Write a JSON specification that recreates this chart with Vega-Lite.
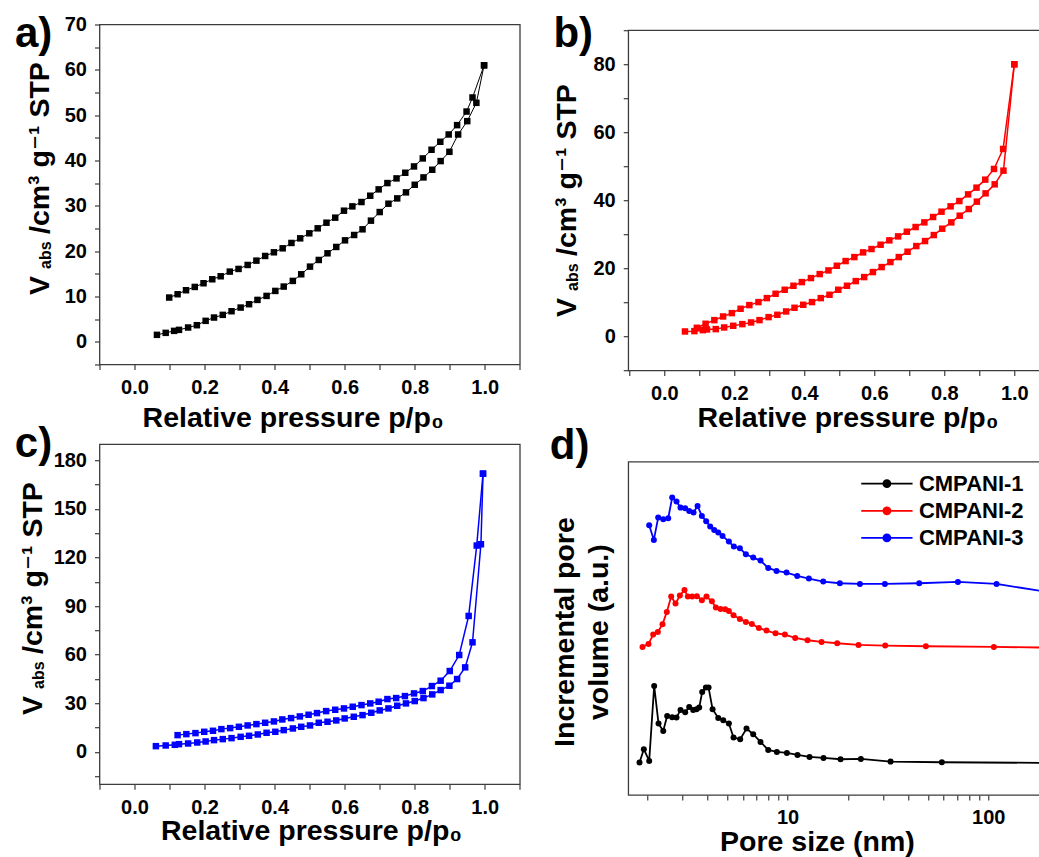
{
 "$schema": "https://vega.github.io/schema/vega-lite/v6.json",
 "background": "white",
 "padding": {"left": 13.5, "top": 10.5, "right": 0, "bottom": 0},
 "datasets": {
  "a": [
   {"p":0.064,"v":1.54,"b":"ads"},{"p":0.089,"v":1.98,"b":"ads"},{"p":0.113,"v":2.42,"b":"ads"},{"p":0.127,"v":2.64,"b":"ads"},{"p":0.153,"v":3.16,"b":"ads"},{"p":0.178,"v":3.67,"b":"ads"},{"p":0.203,"v":4.63,"b":"ads"},{"p":0.227,"v":5.36,"b":"ads"},{"p":0.252,"v":5.95,"b":"ads"},{"p":0.277,"v":6.75,"b":"ads"},{"p":0.303,"v":7.56,"b":"ads"},{"p":0.327,"v":8.3,"b":"ads"},{"p":0.351,"v":9.25,"b":"ads"},{"p":0.377,"v":10.13,"b":"ads"},{"p":0.402,"v":11.23,"b":"ads"},{"p":0.426,"v":12.19,"b":"ads"},{"p":0.452,"v":13.44,"b":"ads"},{"p":0.476,"v":14.9,"b":"ads"},{"p":0.501,"v":16.59,"b":"ads"},{"p":0.526,"v":18.06,"b":"ads"},{"p":0.551,"v":19.53,"b":"ads"},{"p":0.576,"v":20.93,"b":"ads"},{"p":0.601,"v":22.39,"b":"ads"},{"p":0.627,"v":23.57,"b":"ads"},{"p":0.651,"v":24.82,"b":"ads"},{"p":0.675,"v":26.73,"b":"ads"},{"p":0.7,"v":28.63,"b":"ads"},{"p":0.725,"v":30.47,"b":"ads"},{"p":0.75,"v":31.64,"b":"ads"},{"p":0.775,"v":32.97,"b":"ads"},{"p":0.8,"v":34.65,"b":"ads"},{"p":0.825,"v":36.27,"b":"ads"},{"p":0.85,"v":37.96,"b":"ads"},{"p":0.874,"v":39.87,"b":"ads"},{"p":0.899,"v":41.92,"b":"ads"},{"p":0.924,"v":45.74,"b":"ads"},{"p":0.95,"v":48.68,"b":"ads"},{"p":0.976,"v":52.72,"b":"ads"},{"p":0.998,"v":61.0,"b":"ads"},
   {"p":0.099,"v":9.77,"b":"des"},{"p":0.123,"v":10.5,"b":"des"},{"p":0.147,"v":11.38,"b":"des"},{"p":0.172,"v":12.11,"b":"des"},{"p":0.197,"v":12.92,"b":"des"},{"p":0.222,"v":13.8,"b":"des"},{"p":0.246,"v":14.46,"b":"des"},{"p":0.272,"v":15.49,"b":"des"},{"p":0.297,"v":16.08,"b":"des"},{"p":0.323,"v":16.96,"b":"des"},{"p":0.348,"v":17.91,"b":"des"},{"p":0.373,"v":18.94,"b":"des"},{"p":0.398,"v":19.75,"b":"des"},{"p":0.423,"v":20.63,"b":"des"},{"p":0.448,"v":21.81,"b":"des"},{"p":0.473,"v":22.83,"b":"des"},{"p":0.499,"v":23.94,"b":"des"},{"p":0.523,"v":25.04,"b":"des"},{"p":0.548,"v":26.28,"b":"des"},{"p":0.573,"v":27.39,"b":"des"},{"p":0.598,"v":28.93,"b":"des"},{"p":0.622,"v":29.88,"b":"des"},{"p":0.648,"v":30.84,"b":"des"},{"p":0.673,"v":32.23,"b":"des"},{"p":0.697,"v":33.63,"b":"des"},{"p":0.722,"v":35.02,"b":"des"},{"p":0.748,"v":36.05,"b":"des"},{"p":0.773,"v":37.3,"b":"des"},{"p":0.798,"v":38.69,"b":"des"},{"p":0.823,"v":40.46,"b":"des"},{"p":0.848,"v":42.37,"b":"des"},{"p":0.873,"v":44.13,"b":"des"},{"p":0.897,"v":45.74,"b":"des"},{"p":0.921,"v":47.8,"b":"des"},{"p":0.948,"v":50.8,"b":"des"},{"p":0.965,"v":53.9,"b":"des"},{"p":0.998,"v":61.0,"b":"des"}
  ],
  "b": [
   {"p":0.059,"v":1.47,"b":"ads"},{"p":0.086,"v":1.57,"b":"ads"},{"p":0.11,"v":1.86,"b":"ads"},{"p":0.122,"v":2.06,"b":"ads"},{"p":0.147,"v":2.16,"b":"ads"},{"p":0.171,"v":2.65,"b":"ads"},{"p":0.197,"v":3.14,"b":"ads"},{"p":0.223,"v":3.63,"b":"ads"},{"p":0.248,"v":4.12,"b":"ads"},{"p":0.272,"v":4.8,"b":"ads"},{"p":0.298,"v":5.69,"b":"ads"},{"p":0.323,"v":6.37,"b":"ads"},{"p":0.348,"v":7.35,"b":"ads"},{"p":0.372,"v":8.43,"b":"ads"},{"p":0.397,"v":9.31,"b":"ads"},{"p":0.422,"v":10.1,"b":"ads"},{"p":0.447,"v":11.27,"b":"ads"},{"p":0.472,"v":12.25,"b":"ads"},{"p":0.497,"v":13.73,"b":"ads"},{"p":0.522,"v":14.9,"b":"ads"},{"p":0.547,"v":16.27,"b":"ads"},{"p":0.571,"v":17.45,"b":"ads"},{"p":0.596,"v":18.92,"b":"ads"},{"p":0.621,"v":20.39,"b":"ads"},{"p":0.646,"v":21.86,"b":"ads"},{"p":0.67,"v":23.33,"b":"ads"},{"p":0.695,"v":24.9,"b":"ads"},{"p":0.72,"v":26.57,"b":"ads"},{"p":0.745,"v":28.04,"b":"ads"},{"p":0.77,"v":29.8,"b":"ads"},{"p":0.794,"v":31.67,"b":"ads"},{"p":0.82,"v":33.53,"b":"ads"},{"p":0.844,"v":35.49,"b":"ads"},{"p":0.87,"v":37.45,"b":"ads"},{"p":0.893,"v":39.61,"b":"ads"},{"p":0.918,"v":42.06,"b":"ads"},{"p":0.944,"v":44.71,"b":"ads"},{"p":0.969,"v":48.73,"b":"ads"},{"p":1.0,"v":80.0,"b":"ads"},
   {"p":0.093,"v":2.55,"b":"des"},{"p":0.118,"v":3.73,"b":"des"},{"p":0.143,"v":4.8,"b":"des"},{"p":0.168,"v":5.88,"b":"des"},{"p":0.193,"v":6.86,"b":"des"},{"p":0.218,"v":8.14,"b":"des"},{"p":0.243,"v":9.22,"b":"des"},{"p":0.269,"v":10.1,"b":"des"},{"p":0.293,"v":11.27,"b":"des"},{"p":0.318,"v":12.55,"b":"des"},{"p":0.344,"v":13.73,"b":"des"},{"p":0.369,"v":14.9,"b":"des"},{"p":0.393,"v":15.98,"b":"des"},{"p":0.419,"v":17.16,"b":"des"},{"p":0.444,"v":18.33,"b":"des"},{"p":0.469,"v":19.41,"b":"des"},{"p":0.493,"v":20.78,"b":"des"},{"p":0.518,"v":22.16,"b":"des"},{"p":0.543,"v":23.33,"b":"des"},{"p":0.568,"v":24.71,"b":"des"},{"p":0.592,"v":25.69,"b":"des"},{"p":0.618,"v":26.96,"b":"des"},{"p":0.643,"v":28.24,"b":"des"},{"p":0.668,"v":29.41,"b":"des"},{"p":0.693,"v":30.78,"b":"des"},{"p":0.718,"v":32.16,"b":"des"},{"p":0.743,"v":33.53,"b":"des"},{"p":0.768,"v":35.1,"b":"des"},{"p":0.792,"v":36.67,"b":"des"},{"p":0.818,"v":38.24,"b":"des"},{"p":0.843,"v":39.8,"b":"des"},{"p":0.868,"v":41.76,"b":"des"},{"p":0.892,"v":43.73,"b":"des"},{"p":0.917,"v":46.08,"b":"des"},{"p":0.942,"v":49.22,"b":"des"},{"p":0.968,"v":55.1,"b":"des"},{"p":1.0,"v":80.0,"b":"des"}
  ],
  "c": [
   {"p":0.061,"v":3.5,"b":"ads"},{"p":0.089,"v":3.92,"b":"ads"},{"p":0.115,"v":4.33,"b":"ads"},{"p":0.127,"v":4.74,"b":"ads"},{"p":0.153,"v":5.15,"b":"ads"},{"p":0.179,"v":5.77,"b":"ads"},{"p":0.203,"v":6.39,"b":"ads"},{"p":0.227,"v":7.22,"b":"ads"},{"p":0.252,"v":7.84,"b":"ads"},{"p":0.277,"v":8.45,"b":"ads"},{"p":0.303,"v":9.28,"b":"ads"},{"p":0.327,"v":9.9,"b":"ads"},{"p":0.352,"v":10.72,"b":"ads"},{"p":0.377,"v":11.75,"b":"ads"},{"p":0.402,"v":12.37,"b":"ads"},{"p":0.426,"v":13.4,"b":"ads"},{"p":0.452,"v":14.43,"b":"ads"},{"p":0.476,"v":15.46,"b":"ads"},{"p":0.501,"v":16.29,"b":"ads"},{"p":0.526,"v":17.94,"b":"ads"},{"p":0.551,"v":18.56,"b":"ads"},{"p":0.576,"v":19.38,"b":"ads"},{"p":0.6,"v":20.62,"b":"ads"},{"p":0.626,"v":21.65,"b":"ads"},{"p":0.651,"v":22.68,"b":"ads"},{"p":0.676,"v":24.12,"b":"ads"},{"p":0.7,"v":25.57,"b":"ads"},{"p":0.725,"v":26.8,"b":"ads"},{"p":0.75,"v":28.45,"b":"ads"},{"p":0.775,"v":29.9,"b":"ads"},{"p":0.8,"v":31.34,"b":"ads"},{"p":0.825,"v":33.2,"b":"ads"},{"p":0.85,"v":35.46,"b":"ads"},{"p":0.874,"v":38.14,"b":"ads"},{"p":0.899,"v":40.82,"b":"ads"},{"p":0.921,"v":44.95,"b":"ads"},{"p":0.944,"v":52.16,"b":"ads"},{"p":0.965,"v":67.63,"b":"ads"},{"p":0.989,"v":128.2,"b":"ads"},{"p":0.995,"v":171.8,"b":"ads"},
   {"p":0.123,"v":10.31,"b":"des"},{"p":0.148,"v":10.93,"b":"des"},{"p":0.174,"v":11.55,"b":"des"},{"p":0.199,"v":12.37,"b":"des"},{"p":0.224,"v":12.99,"b":"des"},{"p":0.248,"v":14.02,"b":"des"},{"p":0.273,"v":14.64,"b":"des"},{"p":0.298,"v":15.46,"b":"des"},{"p":0.323,"v":16.29,"b":"des"},{"p":0.348,"v":17.11,"b":"des"},{"p":0.373,"v":17.94,"b":"des"},{"p":0.398,"v":18.76,"b":"des"},{"p":0.422,"v":20.0,"b":"des"},{"p":0.447,"v":20.82,"b":"des"},{"p":0.472,"v":21.86,"b":"des"},{"p":0.497,"v":22.89,"b":"des"},{"p":0.521,"v":23.92,"b":"des"},{"p":0.547,"v":25.15,"b":"des"},{"p":0.573,"v":25.98,"b":"des"},{"p":0.598,"v":26.8,"b":"des"},{"p":0.623,"v":27.84,"b":"des"},{"p":0.648,"v":28.87,"b":"des"},{"p":0.673,"v":29.9,"b":"des"},{"p":0.697,"v":30.93,"b":"des"},{"p":0.722,"v":32.58,"b":"des"},{"p":0.747,"v":33.2,"b":"des"},{"p":0.772,"v":34.43,"b":"des"},{"p":0.798,"v":36.08,"b":"des"},{"p":0.823,"v":37.53,"b":"des"},{"p":0.849,"v":40.62,"b":"des"},{"p":0.874,"v":43.92,"b":"des"},{"p":0.9,"v":49.9,"b":"des"},{"p":0.927,"v":59.79,"b":"des"},{"p":0.954,"v":83.92,"b":"des"},{"p":0.977,"v":127.4,"b":"des"},{"p":0.995,"v":171.8,"b":"des"}
  ],
  "d": [
   {"s":"CMPANI-1","x":1.83,"y":9.7},{"s":"CMPANI-1","x":1.923,"y":13.7},{"s":"CMPANI-1","x":2.045,"y":10.2},{"s":"CMPANI-1","x":2.165,"y":32.7},{"s":"CMPANI-1","x":2.276,"y":21.4},{"s":"CMPANI-1","x":2.402,"y":19.2},{"s":"CMPANI-1","x":2.513,"y":23.7},{"s":"CMPANI-1","x":2.662,"y":23.3},{"s":"CMPANI-1","x":2.797,"y":23.2},{"s":"CMPANI-1","x":2.929,"y":25.5},{"s":"CMPANI-1","x":3.09,"y":24.8},{"s":"CMPANI-1","x":3.236,"y":26.4},{"s":"CMPANI-1","x":3.388,"y":25.5},{"s":"CMPANI-1","x":3.519,"y":25.7},{"s":"CMPANI-1","x":3.629,"y":26.2},{"s":"CMPANI-1","x":3.757,"y":30.9},{"s":"CMPANI-1","x":3.919,"y":32.2},{"s":"CMPANI-1","x":4.041,"y":32.2},{"s":"CMPANI-1","x":4.231,"y":25.7},{"s":"CMPANI-1","x":4.515,"y":23.1},{"s":"CMPANI-1","x":4.782,"y":22.4},{"s":"CMPANI-1","x":5.102,"y":21.4},{"s":"CMPANI-1","x":5.382,"y":17.2},{"s":"CMPANI-1","x":5.808,"y":16.7},{"s":"CMPANI-1","x":6.246,"y":19.9},{"s":"CMPANI-1","x":6.745,"y":18.2},{"s":"CMPANI-1","x":7.335,"y":15.9},{"s":"CMPANI-1","x":8.012,"y":13.5},{"s":"CMPANI-1","x":8.846,"y":12.9},{"s":"CMPANI-1","x":9.924,"y":12.6},{"s":"CMPANI-1","x":11.21,"y":12.0},{"s":"CMPANI-1","x":12.87,"y":11.4},{"s":"CMPANI-1","x":15.11,"y":11.1},{"s":"CMPANI-1","x":18.37,"y":10.7},{"s":"CMPANI-1","x":23.19,"y":10.8},{"s":"CMPANI-1","x":32.61,"y":10.0},{"s":"CMPANI-1","x":58.75,"y":9.8},{"s":"CMPANI-1","x":188,"y":9.6},
   {"s":"CMPANI-2","x":1.894,"y":44.4},{"s":"CMPANI-2","x":2.029,"y":45.3},{"s":"CMPANI-2","x":2.141,"y":48.1},{"s":"CMPANI-2","x":2.258,"y":48.9},{"s":"CMPANI-2","x":2.382,"y":51.2},{"s":"CMPANI-2","x":2.503,"y":54.9},{"s":"CMPANI-2","x":2.632,"y":59.5},{"s":"CMPANI-2","x":2.765,"y":57.4},{"s":"CMPANI-2","x":2.907,"y":59.8},{"s":"CMPANI-2","x":3.066,"y":61.5},{"s":"CMPANI-2","x":3.186,"y":59.5},{"s":"CMPANI-2","x":3.349,"y":59.5},{"s":"CMPANI-2","x":3.534,"y":59.6},{"s":"CMPANI-2","x":3.742,"y":58.4},{"s":"CMPANI-2","x":3.947,"y":59.5},{"s":"CMPANI-2","x":4.197,"y":58.1},{"s":"CMPANI-2","x":4.393,"y":56.2},{"s":"CMPANI-2","x":4.635,"y":55.8},{"s":"CMPANI-2","x":4.889,"y":55.7},{"s":"CMPANI-2","x":5.102,"y":55.2},{"s":"CMPANI-2","x":5.382,"y":53.9},{"s":"CMPANI-2","x":5.786,"y":52.8},{"s":"CMPANI-2","x":6.199,"y":51.9},{"s":"CMPANI-2","x":6.64,"y":51.3},{"s":"CMPANI-2","x":7.196,"y":50.1},{"s":"CMPANI-2","x":7.858,"y":49.3},{"s":"CMPANI-2","x":8.714,"y":48.5},{"s":"CMPANI-2","x":9.698,"y":48.1},{"s":"CMPANI-2","x":10.92,"y":47.1},{"s":"CMPANI-2","x":12.58,"y":46.4},{"s":"CMPANI-2","x":14.77,"y":45.9},{"s":"CMPANI-2","x":17.68,"y":45.5},{"s":"CMPANI-2","x":22.58,"y":45.0},{"s":"CMPANI-2","x":30.67,"y":44.8},{"s":"CMPANI-2","x":48.91,"y":44.6},{"s":"CMPANI-2","x":106.7,"y":44.4},{"s":"CMPANI-2","x":188,"y":44.2},
   {"s":"CMPANI-3","x":2.045,"y":80.9},{"s":"CMPANI-3","x":2.157,"y":76.5},{"s":"CMPANI-3","x":2.267,"y":83.2},{"s":"CMPANI-3","x":2.402,"y":82.7},{"s":"CMPANI-3","x":2.543,"y":83.0},{"s":"CMPANI-3","x":2.662,"y":89.2},{"s":"CMPANI-3","x":2.797,"y":88.0},{"s":"CMPANI-3","x":2.929,"y":86.2},{"s":"CMPANI-3","x":3.09,"y":86.0},{"s":"CMPANI-3","x":3.236,"y":85.2},{"s":"CMPANI-3","x":3.401,"y":84.7},{"s":"CMPANI-3","x":3.561,"y":86.7},{"s":"CMPANI-3","x":3.742,"y":83.7},{"s":"CMPANI-3","x":3.932,"y":82.1},{"s":"CMPANI-3","x":4.117,"y":80.5},{"s":"CMPANI-3","x":4.311,"y":79.5},{"s":"CMPANI-3","x":4.515,"y":78.7},{"s":"CMPANI-3","x":4.743,"y":77.7},{"s":"CMPANI-3","x":5.102,"y":76.0},{"s":"CMPANI-3","x":5.403,"y":74.5},{"s":"CMPANI-3","x":5.786,"y":74.0},{"s":"CMPANI-3","x":6.199,"y":72.2},{"s":"CMPANI-3","x":6.745,"y":71.2},{"s":"CMPANI-3","x":7.335,"y":70.3},{"s":"CMPANI-3","x":8.012,"y":68.1},{"s":"CMPANI-3","x":8.813,"y":67.2},{"s":"CMPANI-3","x":9.886,"y":66.7},{"s":"CMPANI-3","x":11.17,"y":65.7},{"s":"CMPANI-3","x":12.77,"y":64.9},{"s":"CMPANI-3","x":15.06,"y":64.0},{"s":"CMPANI-3","x":18.23,"y":63.5},{"s":"CMPANI-3","x":22.94,"y":63.3},{"s":"CMPANI-3","x":30.55,"y":63.3},{"s":"CMPANI-3","x":45.3,"y":63.5},{"s":"CMPANI-3","x":70.62,"y":63.9},{"s":"CMPANI-3","x":110.0,"y":63.3},{"s":"CMPANI-3","x":188,"y":61.1}
  ]
 },
 "bounds": "full",
 "spacing": 26.75,
 "hconcat": [
  {
   "bounds": "flush",
   "spacing": 79.7,
   "vconcat": [
    {
     "width": 420.3, "height": 340,
     "data": {"name": "a"},
     "layer": [
      {"transform": [{"filter": "datum.b === 'ads'"}],
       "mark": {"type": "line", "color": "#000000", "strokeWidth": 1},
       "encoding": {
        "x": {"field": "p", "type": "quantitative", "scale": {"domain": [-0.1, 1.1], "nice": false, "zero": false},
              "axis": {"orient": "bottom", "values": [-0.1,0,0.1,0.2,0.3,0.4,0.5,0.6,0.7,0.8,0.9,1.0,1.1], "labelExpr": "indexof(['0.0','0.2','0.4','0.6','0.8','1.0'], format(datum.value, '.1f')) >= 0 ? format(datum.value, '.1f') : ''", "title": "Relative pressure p/p₀", "titleX": 42.6, "titleY": 62.4, "titleAlign": "left", "titleBaseline": "alphabetic"}},
        "y": {"field": "v", "type": "quantitative", "scale": {"domain": [-5, 70], "nice": false, "zero": false},
              "axis": {"orient": "left", "values": [-5,0,5,10,15,20,25,30,35,40,45,50,55,60,65,70], "labelExpr": "datum.value % 10 === 0 ? datum.label : ''", "title": "V", "titleX": -51.2, "titleY": 270, "titleAngle": 270, "titleAlign": "left", "titleBaseline": "alphabetic"}}
       }},
      {"transform": [{"filter": "datum.b === 'des'"}],
       "mark": {"type": "line", "color": "#000000", "strokeWidth": 1},
       "encoding": {
        "x": {"field": "p", "type": "quantitative", "scale": {"domain": [-0.1, 1.1], "nice": false, "zero": false},
              "axis": {"orient": "top", "ticks": false, "labels": false, "domain": false, "title": "a)", "titleFontSize": 42, "titleX": -85, "titleY": 21.5, "titleAngle": 0, "titleAlign": "left", "titleBaseline": "alphabetic"}},
        "y": {"field": "v", "type": "quantitative", "scale": {"domain": [-5, 70], "nice": false, "zero": false},
              "axis": {"orient": "left", "ticks": false, "labels": false, "domain": false, "title": "abs", "titleFontSize": 16, "titleX": -49.2, "titleY": 244, "titleAngle": 270, "titleAlign": "left", "titleBaseline": "alphabetic"}}
       }},
      {"mark": {"type": "square", "filled": true, "size": 42, "color": "#000000", "opacity": 1},
       "encoding": {
        "x": {"field": "p", "type": "quantitative", "scale": {"domain": [-0.1, 1.1], "nice": false, "zero": false}, "axis": null},
        "y": {"field": "v", "type": "quantitative", "scale": {"domain": [-5, 70], "nice": false, "zero": false},
              "axis": {"orient": "left", "ticks": false, "labels": false, "domain": false, "title": "/cm³ g⁻¹ STP", "titleX": -51.2, "titleY": 209, "titleAngle": 270, "titleAlign": "left", "titleBaseline": "alphabetic"}}
       }}
     ],
     "resolve": {"axis": {"x": "independent", "y": "independent"}}
    },
    {
     "width": 420.3, "height": 340,
     "data": {"name": "c"},
     "layer": [
      {"transform": [{"filter": "datum.b === 'ads'"}],
       "mark": {"type": "line", "color": "#0000ff", "strokeWidth": 1.5},
       "encoding": {
        "x": {"field": "p", "type": "quantitative", "scale": {"domain": [-0.1, 1.1], "nice": false, "zero": false},
              "axis": {"orient": "bottom", "values": [-0.1,0,0.1,0.2,0.3,0.4,0.5,0.6,0.7,0.8,0.9,1.0,1.1], "labelExpr": "indexof(['0.0','0.2','0.4','0.6','0.8','1.0'], format(datum.value, '.1f')) >= 0 ? format(datum.value, '.1f') : ''", "title": "Relative pressure p/p₀", "titleX": 61, "titleY": 55, "titleAlign": "left", "titleBaseline": "alphabetic"}},
        "y": {"field": "v", "type": "quantitative", "scale": {"domain": [-20, 190], "nice": false, "zero": false},
              "axis": {"orient": "left", "values": [-15,0,15,30,45,60,75,90,105,120,135,150,165,180], "labelExpr": "datum.value % 30 === 0 ? datum.label : ''", "title": "V", "titleX": -58.2, "titleY": 270.3, "titleAngle": 270, "titleAlign": "left", "titleBaseline": "alphabetic"}}
       }},
      {"transform": [{"filter": "datum.b === 'des'"}],
       "mark": {"type": "line", "color": "#0000ff", "strokeWidth": 1.5},
       "encoding": {
        "x": {"field": "p", "type": "quantitative", "scale": {"domain": [-0.1, 1.1], "nice": false, "zero": false},
              "axis": {"orient": "top", "ticks": false, "labels": false, "domain": false, "title": "c)", "titleFontSize": 42, "titleX": -85.2, "titleY": 12.3, "titleAngle": 0, "titleAlign": "left", "titleBaseline": "alphabetic"}},
        "y": {"field": "v", "type": "quantitative", "scale": {"domain": [-20, 190], "nice": false, "zero": false},
              "axis": {"orient": "left", "ticks": false, "labels": false, "domain": false, "title": "abs", "titleFontSize": 16, "titleX": -56.2, "titleY": 244.3, "titleAngle": 270, "titleAlign": "left", "titleBaseline": "alphabetic"}}
       }},
      {"mark": {"type": "square", "filled": true, "size": 42, "color": "#0000ff", "opacity": 1},
       "encoding": {
        "x": {"field": "p", "type": "quantitative", "scale": {"domain": [-0.1, 1.1], "nice": false, "zero": false}, "axis": null},
        "y": {"field": "v", "type": "quantitative", "scale": {"domain": [-20, 190], "nice": false, "zero": false},
              "axis": {"orient": "left", "ticks": false, "labels": false, "domain": false, "title": "/cm³ g⁻¹ STP", "titleX": -58.2, "titleY": 209.3, "titleAngle": 270, "titleAlign": "left", "titleBaseline": "alphabetic"}}
       }}
     ],
     "resolve": {"axis": {"x": "independent", "y": "independent"}}
    }
   ]
  },
  {
   "bounds": "flush",
   "spacing": 2.7,
   "vconcat": [
    {"data": {"values": []}, "mark": "point", "width": 10, "height": 3, "view": {"stroke": null}},
    {
     "width": 415, "height": 340.3,
     "data": {"name": "b"},
     "layer": [
      {"transform": [{"filter": "datum.b === 'ads'"}],
       "mark": {"type": "line", "color": "#ff0000", "strokeWidth": 1.5},
       "encoding": {
        "x": {"field": "p", "type": "quantitative", "scale": {"domain": [-0.103, 1.0827], "nice": false, "zero": false},
              "axis": {"orient": "bottom", "values": [-0.1,0,0.1,0.2,0.3,0.4,0.5,0.6,0.7,0.8,0.9,1.0], "labelExpr": "indexof(['0.0','0.2','0.4','0.6','0.8','1.0'], format(datum.value, '.1f')) >= 0 ? format(datum.value, '.1f') : ''", "title": "Relative pressure p/p₀", "titleX": 68.7, "titleY": 56.4, "titleAlign": "left", "titleBaseline": "alphabetic"}},
        "y": {"field": "v", "type": "quantitative", "scale": {"domain": [-10, 90], "nice": false, "zero": false},
              "axis": {"orient": "left", "values": [-10,0,10,20,30,40,50,60,70,80,90], "labelExpr": "datum.value % 20 === 0 ? datum.label : ''", "title": "V", "titleX": -52.3, "titleY": 286.3, "titleAngle": 270, "titleAlign": "left", "titleBaseline": "alphabetic"}}
       }},
      {"transform": [{"filter": "datum.b === 'des'"}],
       "mark": {"type": "line", "color": "#ff0000", "strokeWidth": 1.5},
       "encoding": {
        "x": {"field": "p", "type": "quantitative", "scale": {"domain": [-0.103, 1.0827], "nice": false, "zero": false},
              "axis": {"orient": "top", "ticks": false, "labels": false, "domain": false, "title": "b)", "titleFontSize": 42, "titleX": -75.3, "titleY": 16.3, "titleAngle": 0, "titleAlign": "left", "titleBaseline": "alphabetic"}},
        "y": {"field": "v", "type": "quantitative", "scale": {"domain": [-10, 90], "nice": false, "zero": false},
              "axis": {"orient": "left", "ticks": false, "labels": false, "domain": false, "title": "abs", "titleFontSize": 16, "titleX": -50.3, "titleY": 260.3, "titleAngle": 270, "titleAlign": "left", "titleBaseline": "alphabetic"}}
       }},
      {"mark": {"type": "square", "filled": true, "size": 42, "color": "#ff0000", "opacity": 1},
       "encoding": {
        "x": {"field": "p", "type": "quantitative", "scale": {"domain": [-0.103, 1.0827], "nice": false, "zero": false}, "axis": null},
        "y": {"field": "v", "type": "quantitative", "scale": {"domain": [-10, 90], "nice": false, "zero": false},
              "axis": {"orient": "left", "ticks": false, "labels": false, "domain": false, "title": "/cm³ g⁻¹ STP", "titleX": -52.3, "titleY": 225.3, "titleAngle": 270, "titleAlign": "left", "titleBaseline": "alphabetic"}}
       }}
     ],
     "resolve": {"axis": {"x": "independent", "y": "independent"}}
    },
    {"data": {"values": []}, "mark": "point", "width": 10, "height": 84.6, "view": {"stroke": null}},
    {
     "width": 415, "height": 333.3,
     "data": {"name": "d"},
     "layer": [
      {"mark": {"type": "line", "strokeWidth": 1.8, "clip": true},
       "encoding": {
        "x": {"field": "x", "type": "quantitative", "scale": {"type": "log", "domain": [1.608, 188], "nice": false},
              "axis": {"orient": "bottom", "values": [2,3,4,5,6,7,8,9,10,20,30,40,50,60,70,80,90,100], "labelExpr": "(datum.value === 10 || datum.value === 100) ? format(datum.value, 'd') : ''", "title": "Pore size (nm)", "titleX": 91.3, "titleY": 55.4, "titleAlign": "left", "titleBaseline": "alphabetic"}},
        "y": {"field": "y", "type": "quantitative", "scale": {"domain": [0, 100], "nice": false, "zero": false},
              "axis": {"orient": "left", "ticks": false, "labels": false, "domain": false, "title": ["Incremental pore", "volume (a.u.)"], "titleX": -54.3, "titleY": 170, "titleAngle": 270, "titleAlign": "center", "titleBaseline": "alphabetic", "titleLineHeight": 34}},
        "color": {"field": "s", "type": "nominal", "scale": {"domain": ["CMPANI-1", "CMPANI-2", "CMPANI-3"], "range": ["#000000", "#ff0000", "#0000ff"]}}
       }},
      {"transform": [{"filter": "datum.x < 150"}],
       "mark": {"type": "circle", "size": 36, "opacity": 1},
       "encoding": {
        "x": {"field": "x", "type": "quantitative", "scale": {"type": "log", "domain": [1.608, 188], "nice": false},
              "axis": {"orient": "top", "ticks": false, "labels": false, "domain": false, "title": "d)", "titleFontSize": 42, "titleX": -78.9, "titleY": -3, "titleAngle": 0, "titleAlign": "left", "titleBaseline": "alphabetic"}},
        "y": {"field": "y", "type": "quantitative", "scale": {"domain": [0, 100], "nice": false, "zero": false}},
        "color": {"field": "s", "type": "nominal", "scale": {"domain": ["CMPANI-1", "CMPANI-2", "CMPANI-3"], "range": ["#000000", "#ff0000", "#0000ff"]},
                  "legend": {"orient": "none", "legendX": 772.9, "legendY": 444.7, "title": null,
                             "symbolType": "M-1.9,0H1.9M-0.26,0A0.26,0.26,0,1,0,0.26,0A0.26,0.26,0,1,0,-0.26,0Z",
                             "symbolSize": 729, "symbolStrokeWidth": 1.8,
                             "labelFont": "Liberation Sans", "labelFontSize": 22, "labelFontWeight": "bold", "labelColor": "#000000",
                             "labelOffset": 17.5, "rowPadding": 1.1, "padding": 0, "offset": 0,
                             "encode": {"symbols": {"update": {
                               "stroke": {"signal": "datum.value === 'CMPANI-1' ? '#000000' : datum.value === 'CMPANI-2' ? '#ff0000' : '#0000ff'"},
                               "fill": {"signal": "datum.value === 'CMPANI-1' ? '#000000' : datum.value === 'CMPANI-2' ? '#ff0000' : '#0000ff'"},
                               "opacity": {"value": 1}}}}}}
       }}
     ],
     "resolve": {"axis": {"x": "independent"}}
    }
   ]
  }
 ],
 "config": {
  "view": {"stroke": "#3c3c3c", "strokeWidth": 1.3},
  "axis": {"labelFont": "Liberation Sans", "labelFontSize": 20, "labelFontWeight": "bold", "labelColor": "#000000",
           "titleFont": "Liberation Sans, DejaVu Sans", "titleFontSize": 28.5, "titleFontWeight": "bold", "titleColor": "#000000",
           "tickColor": "#3c3c3c", "tickSize": 5, "tickWidth": 1.2, "domain": false, "grid": false,
           "labelPadding": 8, "labelOverlap": false, "labelFlush": false}
 }
}
